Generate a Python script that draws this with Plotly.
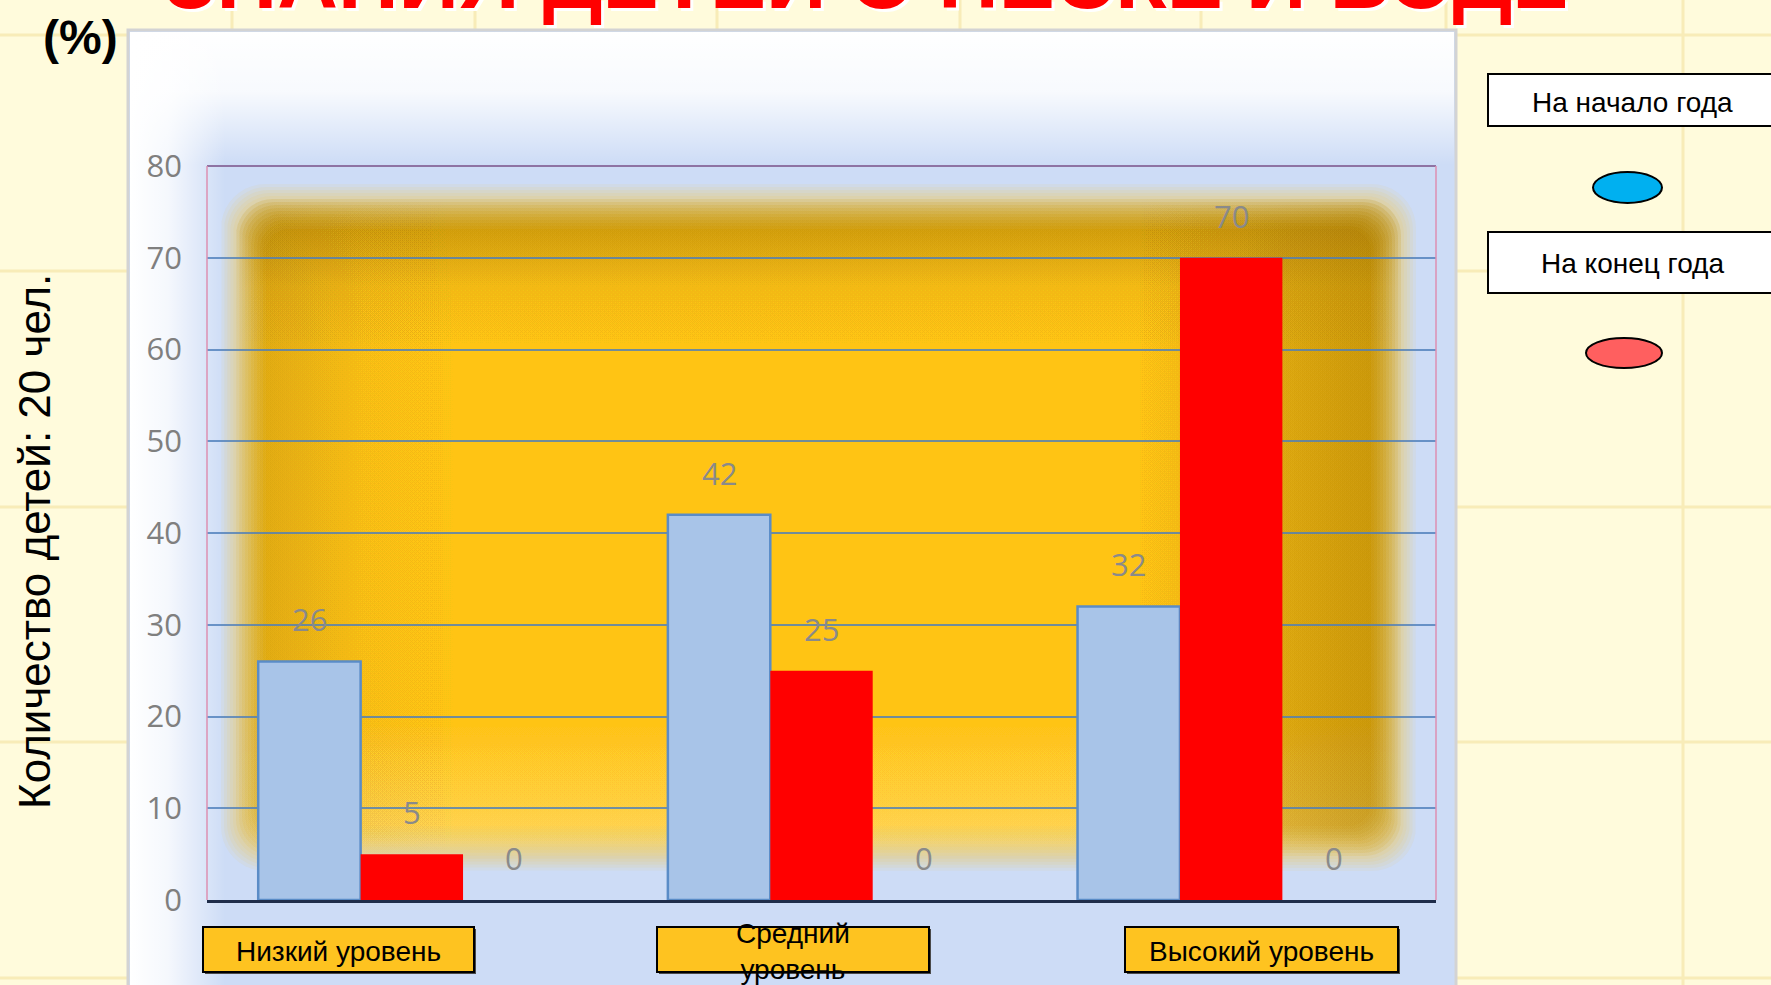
import math
import plotly.graph_objects as go

# ---------------- data ----------------
categories = ["Низкий уровень", "Средний уровень", "Высокий уровень"]
category_box_text = ["Низкий уровень", "Средний<br>уровень", "Высокий уровень"]
series_names = ["На начало года", "На конец года", "Ряд 3"]
start_of_year = [26, 42, 32]
end_of_year = [5, 25, 70]
series_three = [0, 0, 0]
y_ticks = [0, 10, 20, 30, 40, 50, 60, 70, 80]
title_text = "ЗНАНИЯ ДЕТЕЙ О ПЕСКЕ И ВОДЕ"
y_title_text = "Количество детей: 20 чел."
unit_text = "(%)"

# ---------------- layout geometry (pixels) ----------------
W, H = 1771, 985
PX0, PX1, PY0, PY1 = 207, 1436, 166, 900   # plot area


def fx(x):
    return x / W


def fy(y):
    return 1 - y / H


def rrect(x0, y0, x1, y1, r, n=10):
    xs, ys = [], []
    corners = [(x1 - r, y0 + r, -90, 0), (x1 - r, y1 - r, 0, 90),
               (x0 + r, y1 - r, 90, 180), (x0 + r, y0 + r, 180, 270)]
    for cx, cy, a0, a1 in corners:
        for i in range(n + 1):
            a = math.radians(a0 + (a1 - a0) * i / n)
            xs.append(cx + r * math.cos(a))
            ys.append(cy + r * math.sin(a))
    xs.append(xs[0])
    ys.append(ys[0])
    return xs, ys


fig = go.Figure()


def decor(xs, ys, **kw):
    fig.add_trace(go.Scatter(x=xs, y=ys, xaxis="x", yaxis="y", fill="toself",
                             mode="lines", line=dict(width=0), hoverinfo="skip",
                             showlegend=False, **kw))


# chart panel
decor([128, 1456, 1456, 128, 128], [30, 30, 1000, 1000, 30], fillcolor="#cddcf6")
decor([130, 1454, 1454, 130, 130], [32, 32, 165, 165, 32],
      fillgradient=dict(type="vertical", start=32, stop=165,
                        colorscale=[[0, "rgba(255,255,255,1)"], [0.45, "rgba(255,255,255,0.85)"],
                                    [1, "rgba(255,255,255,0)"]]))
decor([130, 225, 225, 130, 130], [32, 32, 1000, 1000, 32],
      fillgradient=dict(type="horizontal", start=130, stop=225,
                        colorscale=[[0, "rgba(255,255,255,1)"], [0.4, "rgba(255,255,255,0.8)"],
                                    [1, "rgba(255,255,255,0)"]]))

# soft golden glow inside the plot area (stack of soft-edged layers)
YX0, YY0, YX1, YY1 = 242, 205, 1395, 850
N = 16
STEP = 3.0
D0 = -21


def layer_shape(k):
    d = D0 + k * STEP
    return rrect(YX0 + d, YY0 + d, YX1 - d, YY1 - d, max(8, 34 - d * 0.5))


# base bright yellow: linear coverage ramp
for k in range(N):
    xs, ys = layer_shape(k)
    decor(xs, ys, opacity=1.0 / (N - k), fillcolor="#ffc414")

K0 = 5
M = N - K0


def cs(stops):
    out = []
    for p, (r, g, b), t in stops:
        c = 1 - (1 - t) ** (1.0 / M)
        out.append([p, "rgba(%d,%d,%d,%.4f)" % (r, g, b, c)])
    return out


DARK = (150, 108, 0)
PALE = (255, 238, 185)
v_scale = cs([[0, DARK, 0.62], [0.07, DARK, 0.42], [0.15, DARK, 0.12],
              [0.25, DARK, 0.0], [0.78, PALE, 0.0], [0.9, PALE, 0.25], [1, PALE, 0.5]])
h_scale = cs([[0, DARK, 0.38], [0.05, DARK, 0.26], [0.12, DARK, 0.08],
              [0.22, DARK, 0.0], [0.76, DARK, 0.0], [0.85, DARK, 0.22],
              [0.94, DARK, 0.45], [1, DARK, 0.55]])
for k in range(K0, N):
    xs, ys = layer_shape(k)
    decor(xs, ys, fillgradient=dict(type="vertical", start=YY0 + D0, stop=YY1 - D0, colorscale=v_scale))
for k in range(K0, N):
    xs, ys = layer_shape(k)
    decor(xs, ys, fillgradient=dict(type="horizontal", start=YX0 + D0, stop=YX1 - D0, colorscale=h_scale))

# ---------------- bars ----------------
x_pos = list(range(len(categories)))
fig.add_trace(go.Bar(x=x_pos, y=start_of_year, name=series_names[0], xaxis="x2", yaxis="y2",
                     marker=dict(color="#a8c4e8", line=dict(color="#5a8cc7", width=2.5)),
                     hoverinfo="y"))
fig.add_trace(go.Bar(x=x_pos, y=end_of_year, name=series_names[1], xaxis="x2", yaxis="y2",
                     marker=dict(color="#ff0000", line=dict(width=0)), hoverinfo="y"))
fig.add_trace(go.Bar(x=x_pos, y=series_three, name=series_names[2], xaxis="x2", yaxis="y2",
                     marker=dict(color="rgba(0,0,0,0)", line=dict(width=0)), hoverinfo="y"))

annotations = []
label_font = dict(family="Open Sans", size=31, color="#8a8a8a")
bar_w = 0.25
for k, vals in enumerate([start_of_year, end_of_year, series_three]):
    for i, v in enumerate(vals):
        annotations.append(dict(x=x_pos[i] + (k - 1) * bar_w, y=v, xref="x2", yref="y2",
                                text=str(v), showarrow=False, yshift=42, font=label_font))

# ---------------- shapes ----------------
shapes = []
# cream background grid
for yy in [35, 271, 507, 742, 978]:
    shapes.append(dict(type="line", xref="paper", yref="paper", x0=0, x1=1, y0=fy(yy), y1=fy(yy),
                       line=dict(color="#f8ecb8", width=3), layer="below"))
for xx in [232, 475, 717, 960, 1201, 1446, 1683]:
    shapes.append(dict(type="line", xref="paper", yref="paper", x0=fx(xx), x1=fx(xx), y0=0, y1=1,
                       line=dict(color="#f8ecb8", width=3), layer="below"))
# panel border
shapes.append(dict(type="rect", xref="paper", yref="paper", x0=fx(128), x1=fx(1456), y0=fy(1010), y1=fy(30),
                   line=dict(color="#d3d3d3", width=3), layer="above"))
# plot frame
shapes.append(dict(type="line", xref="paper", yref="paper", x0=fx(PX0), x1=fx(PX1), y0=fy(PY0), y1=fy(PY0),
                   line=dict(color="#8e73a3", width=2), layer="above"))
for xx in [PX0, PX1]:
    shapes.append(dict(type="line", xref="paper", yref="paper", x0=fx(xx), x1=fx(xx), y0=fy(PY1), y1=fy(PY0),
                       line=dict(color="#dc8fb2", width=1.5), layer="above"))

# category boxes
cat_boxes = [(203, 474), (657, 929), (1125, 1398)]
for (bx0, bx1), txt in zip(cat_boxes, category_box_text):
    shapes.append(dict(type="rect", xref="paper", yref="paper", x0=fx(bx0 + 2), x1=fx(bx1 + 2),
                       y0=fy(974), y1=fy(929), line=dict(width=0), fillcolor="#4a4a4a", layer="above"))
    shapes.append(dict(type="rect", xref="paper", yref="paper", x0=fx(bx0), x1=fx(bx1),
                       y0=fy(972), y1=fy(927), line=dict(color="#000000", width=2),
                       fillcolor="#fec320", layer="above"))
    annotations.append(dict(x=fx((bx0 + bx1) / 2), y=fy(951), xref="paper", yref="paper",
                            text=txt, showarrow=False, xanchor="center", yanchor="middle",
                            font=dict(family="Liberation Sans", size=28, color="#000000")))

# legend
legend_boxes = [(74, 126, 103, "#00b0f0", (1593, 1662, 172, 203)),
                (232, 293, 264, "#ff5f5f", (1586, 1662, 338, 368))]
for (by0, by1, ty, col, (ex0, ex1, ey0, ey1)), nm in zip(legend_boxes, series_names[:2]):
    shapes.append(dict(type="rect", xref="paper", yref="paper", x0=fx(1488), x1=fx(1800),
                       y0=fy(by1), y1=fy(by0), line=dict(color="#000000", width=2),
                       fillcolor="#ffffff", layer="above"))
    shapes.append(dict(type="circle", xref="paper", yref="paper", x0=fx(ex0), x1=fx(ex1),
                       y0=fy(ey1), y1=fy(ey0), line=dict(color="#000000", width=2),
                       fillcolor=col, layer="above"))
    annotations.append(dict(x=fx(1632), y=fy(ty), xref="paper", yref="paper", text=nm,
                            showarrow=False, xanchor="center", yanchor="middle",
                            font=dict(family="Liberation Sans", size=28, color="#000000")))

# title (cut off at top), unit, y title
annotations.append(dict(x=fx(866), y=fy(28), xref="paper", yref="paper", text="<b>" + title_text + "</b>",
                        showarrow=False, xanchor="center", yanchor="bottom",
                        font=dict(family="Liberation Sans", size=84, color="#ff0000",
                                  shadow="3px 3px 0px #ffffff")))
annotations.append(dict(x=fx(80), y=fy(38), xref="paper", yref="paper", text="<b>" + unit_text + "</b>",
                        showarrow=False, xanchor="center", yanchor="middle",
                        font=dict(family="Liberation Sans", size=48, color="#000000")))
annotations.append(dict(x=fx(34), y=fy(542), xref="paper", yref="paper", text=y_title_text,
                        showarrow=False, xanchor="center", yanchor="middle", textangle=-90,
                        font=dict(family="Liberation Sans", size=44, color="#000000")))

fig.update_layout(
    width=W, height=H, margin=dict(l=0, r=0, t=0, b=0, pad=0, autoexpand=False),
    paper_bgcolor="#fffbdc", plot_bgcolor="rgba(0,0,0,0)",
    showlegend=False, barmode="group", bargap=0.25, bargroupgap=0,
    xaxis=dict(domain=[0, 1], range=[0, W], visible=False, fixedrange=True, automargin=False),
    yaxis=dict(domain=[0, 1], range=[H, 0], visible=False, fixedrange=True, automargin=False),
    xaxis2=dict(domain=[fx(PX0), fx(PX1)], anchor="y2", range=[-0.5, 2.5], showticklabels=False,
                showgrid=False, zeroline=False, showline=True, linecolor="#1f2d4a", linewidth=2.5,
                ticks="", automargin=False),
    yaxis2=dict(domain=[fy(PY1), fy(PY0)], anchor="x2", range=[0, 80], tickvals=y_ticks,
                showgrid=True, gridcolor="rgba(77,126,186,0.8)", gridwidth=2, zeroline=False,
                showline=False, ticks="", ticklabelstandoff=24, automargin=False,
                tickfont=dict(family="Open Sans", size=31, color="#7f7f7f")),
    shapes=shapes, annotations=annotations,
)

fig.write_html("out.html", config={"displayModeBar": False},
               post_script="document.body.style.margin='0';document.body.style.overflow='hidden';")
